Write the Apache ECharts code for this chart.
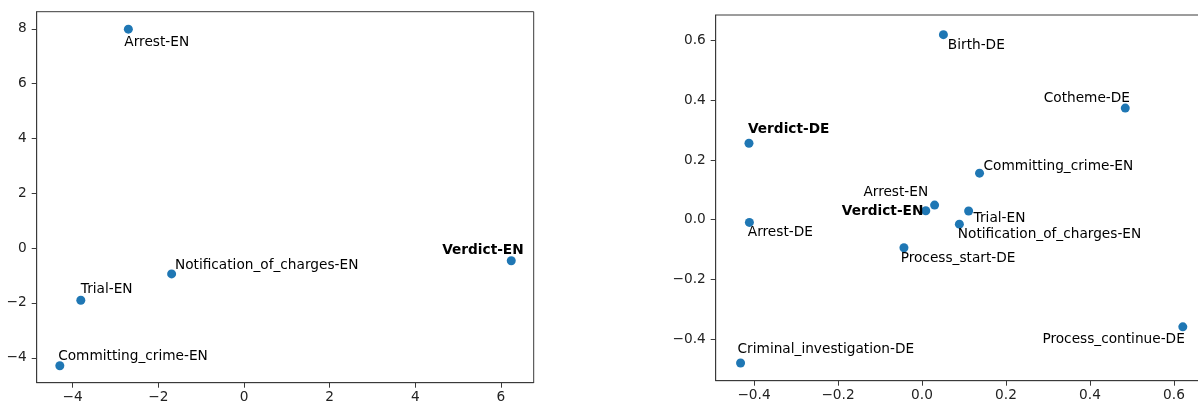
<!DOCTYPE html>
<html>
<head>
<meta charset="utf-8">
<script src="https://cdn.jsdelivr.net/npm/echarts@6/dist/echarts.min.js"></script>
<style>
  html, body { margin: 0; padding: 0; background: #fff; }
  #chart { width: 1198px; height: 405px; }
</style>
</head>
<body>
<div id="chart"></div>
<script>
// ---------- DATA ----------
const leftNames = ['Arrest-EN', 'Notification_of_charges-EN', 'Trial-EN', 'Committing_crime-EN', 'Verdict-EN'];
const leftX = [-2.70, -1.69, -3.81, -4.30, 6.24];
const leftY = [7.99, -0.94, -1.90, -4.29, -0.46];
const leftBold = ['Verdict-EN'];

const rightNames = ['Birth-DE', 'Cotheme-DE', 'Verdict-DE', 'Committing_crime-EN', 'Arrest-EN', 'Verdict-EN',
  'Trial-EN', 'Notification_of_charges-EN', 'Arrest-DE', 'Process_start-DE', 'Process_continue-DE', 'Criminal_investigation-DE'];
const rightX = [0.051, 0.484, -0.412, 0.137, 0.030, 0.009, 0.111, 0.089, -0.411, -0.043, 0.621, -0.432];
const rightY = [0.620, 0.374, 0.256, 0.156, 0.049, 0.030, 0.029, -0.015, -0.009, -0.094, -0.359, -0.480];
const rightBold = ['Verdict-DE', 'Verdict-EN'];

const leftXTicks = [-4, -2, 0, 2, 4, 6];
const leftYTicks = [-4, -2, 0, 2, 4, 6, 8];
const rightXTicks = [-0.4, -0.2, 0.0, 0.2, 0.4, 0.6];
const rightYTicks = [-0.4, -0.2, 0.0, 0.2, 0.4, 0.6];

// ---------- LABEL PLACEMENT (style; [align, dx, baselineOffset]) ----------
const leftLabelPos = [
  ['left', -4, 17.7],
  ['left', 3.3, -4.7],
  ['left', 0, -7],
  ['left', -1.7, -5],
  ['right', 12.4, -6]
];
const rightLabelPos = [
  ['left', 4.4, 15.3],
  ['right', 4.7, -6],
  ['left', -1, -9.3],
  ['left', 4, -3],
  ['right', -6.4, -8.3],
  ['right', -2.4, 5.3],
  ['left', 5, 11.3],
  ['left', -1.6, 14],
  ['left', -1.6, 14.4],
  ['left', -3.3, 15],
  ['right', 2, 16.3],
  ['left', -3, -9.4]
];

// ---------- STYLE ----------
const FONT = 'DejaVu Sans';
const FS = 13.7;
const FRAME = '#3a3a3a';
const BLUE = '#1f77b4';
const SYM = 9;

function fmt(dec) {
  return function (v) {
    const s = dec ? Number(v).toFixed(dec) : String(Math.round(v));
    return s.replace('-', '\u2212');
  };
}

function axisCommon(ticks, dec, isX, gridIndex, min, max) {
  return {
    type: 'value',
    gridIndex: gridIndex,
    min: min,
    max: max,
    splitLine: { show: false },
    axisLine: { show: true, onZero: false, lineStyle: { color: FRAME, width: 1 } },
    axisTick: { show: true, inside: false, length: 5, customValues: ticks, lineStyle: { color: FRAME, width: 1 } },
    axisLabel: {
      show: true, customValues: ticks, formatter: fmt(dec),
      color: '#222', fontFamily: FONT, fontSize: FS,
      margin: isX ? 8 : 10,
      showMinLabel: true, showMaxLabel: true
    }
  };
}

function buildData(names, xs, ys, bold, pos) {
  return names.map(function (n, i) {
    const p = pos[i];
    return {
      value: [xs[i], ys[i]],
      name: n,
      label: {
        show: true,
        formatter: n,
        position: [SYM / 2 + p[1], SYM / 2 + p[2] - 0.3 * FS],
        align: p[0],
        verticalAlign: 'middle',
        fontWeight: bold.indexOf(n) >= 0 ? 'bold' : 'normal'
      }
    };
  });
}

const chart = echarts.init(document.getElementById('chart'), null, { renderer: 'canvas' });

const option = {
  animation: false,
  backgroundColor: '#fff',
  grid: [
    { left: 36.7, top: 11.7, width: 497, height: 371, show: true, borderColor: FRAME, borderWidth: 1, backgroundColor: 'transparent', containLabel: false, outerBoundsMode: 'none' },
    { left: 715.7, top: 15, width: 490, height: 365.7, show: true, borderColor: FRAME, borderWidth: 1, backgroundColor: 'transparent', containLabel: false, outerBoundsMode: 'none' }
  ],
  xAxis: [
    axisCommon(leftXTicks, 0, true, 0, -4.84, 6.764),
    axisCommon(rightXTicks, 1, true, 1, -0.4912, 0.6755)
  ],
  yAxis: [
    axisCommon(leftYTicks, 0, false, 0, -4.91, 8.626),
    axisCommon(rightYTicks, 1, false, 1, -0.5394, 0.6858)
  ],
  series: [
    {
      type: 'scatter', xAxisIndex: 0, yAxisIndex: 0,
      symbol: 'circle', symbolSize: SYM,
      itemStyle: { color: BLUE, opacity: 1 },
      label: { color: '#000', fontFamily: FONT, fontSize: FS },
      labelLayout: { hideOverlap: false },
      data: buildData(leftNames, leftX, leftY, leftBold, leftLabelPos)
    },
    {
      type: 'scatter', xAxisIndex: 1, yAxisIndex: 1,
      symbol: 'circle', symbolSize: SYM,
      itemStyle: { color: BLUE, opacity: 1 },
      label: { color: '#000', fontFamily: FONT, fontSize: FS },
      labelLayout: { hideOverlap: false },
      data: buildData(rightNames, rightX, rightY, rightBold, rightLabelPos)
    }
  ]
};

chart.setOption(option);
</script>
</body>
</html>
